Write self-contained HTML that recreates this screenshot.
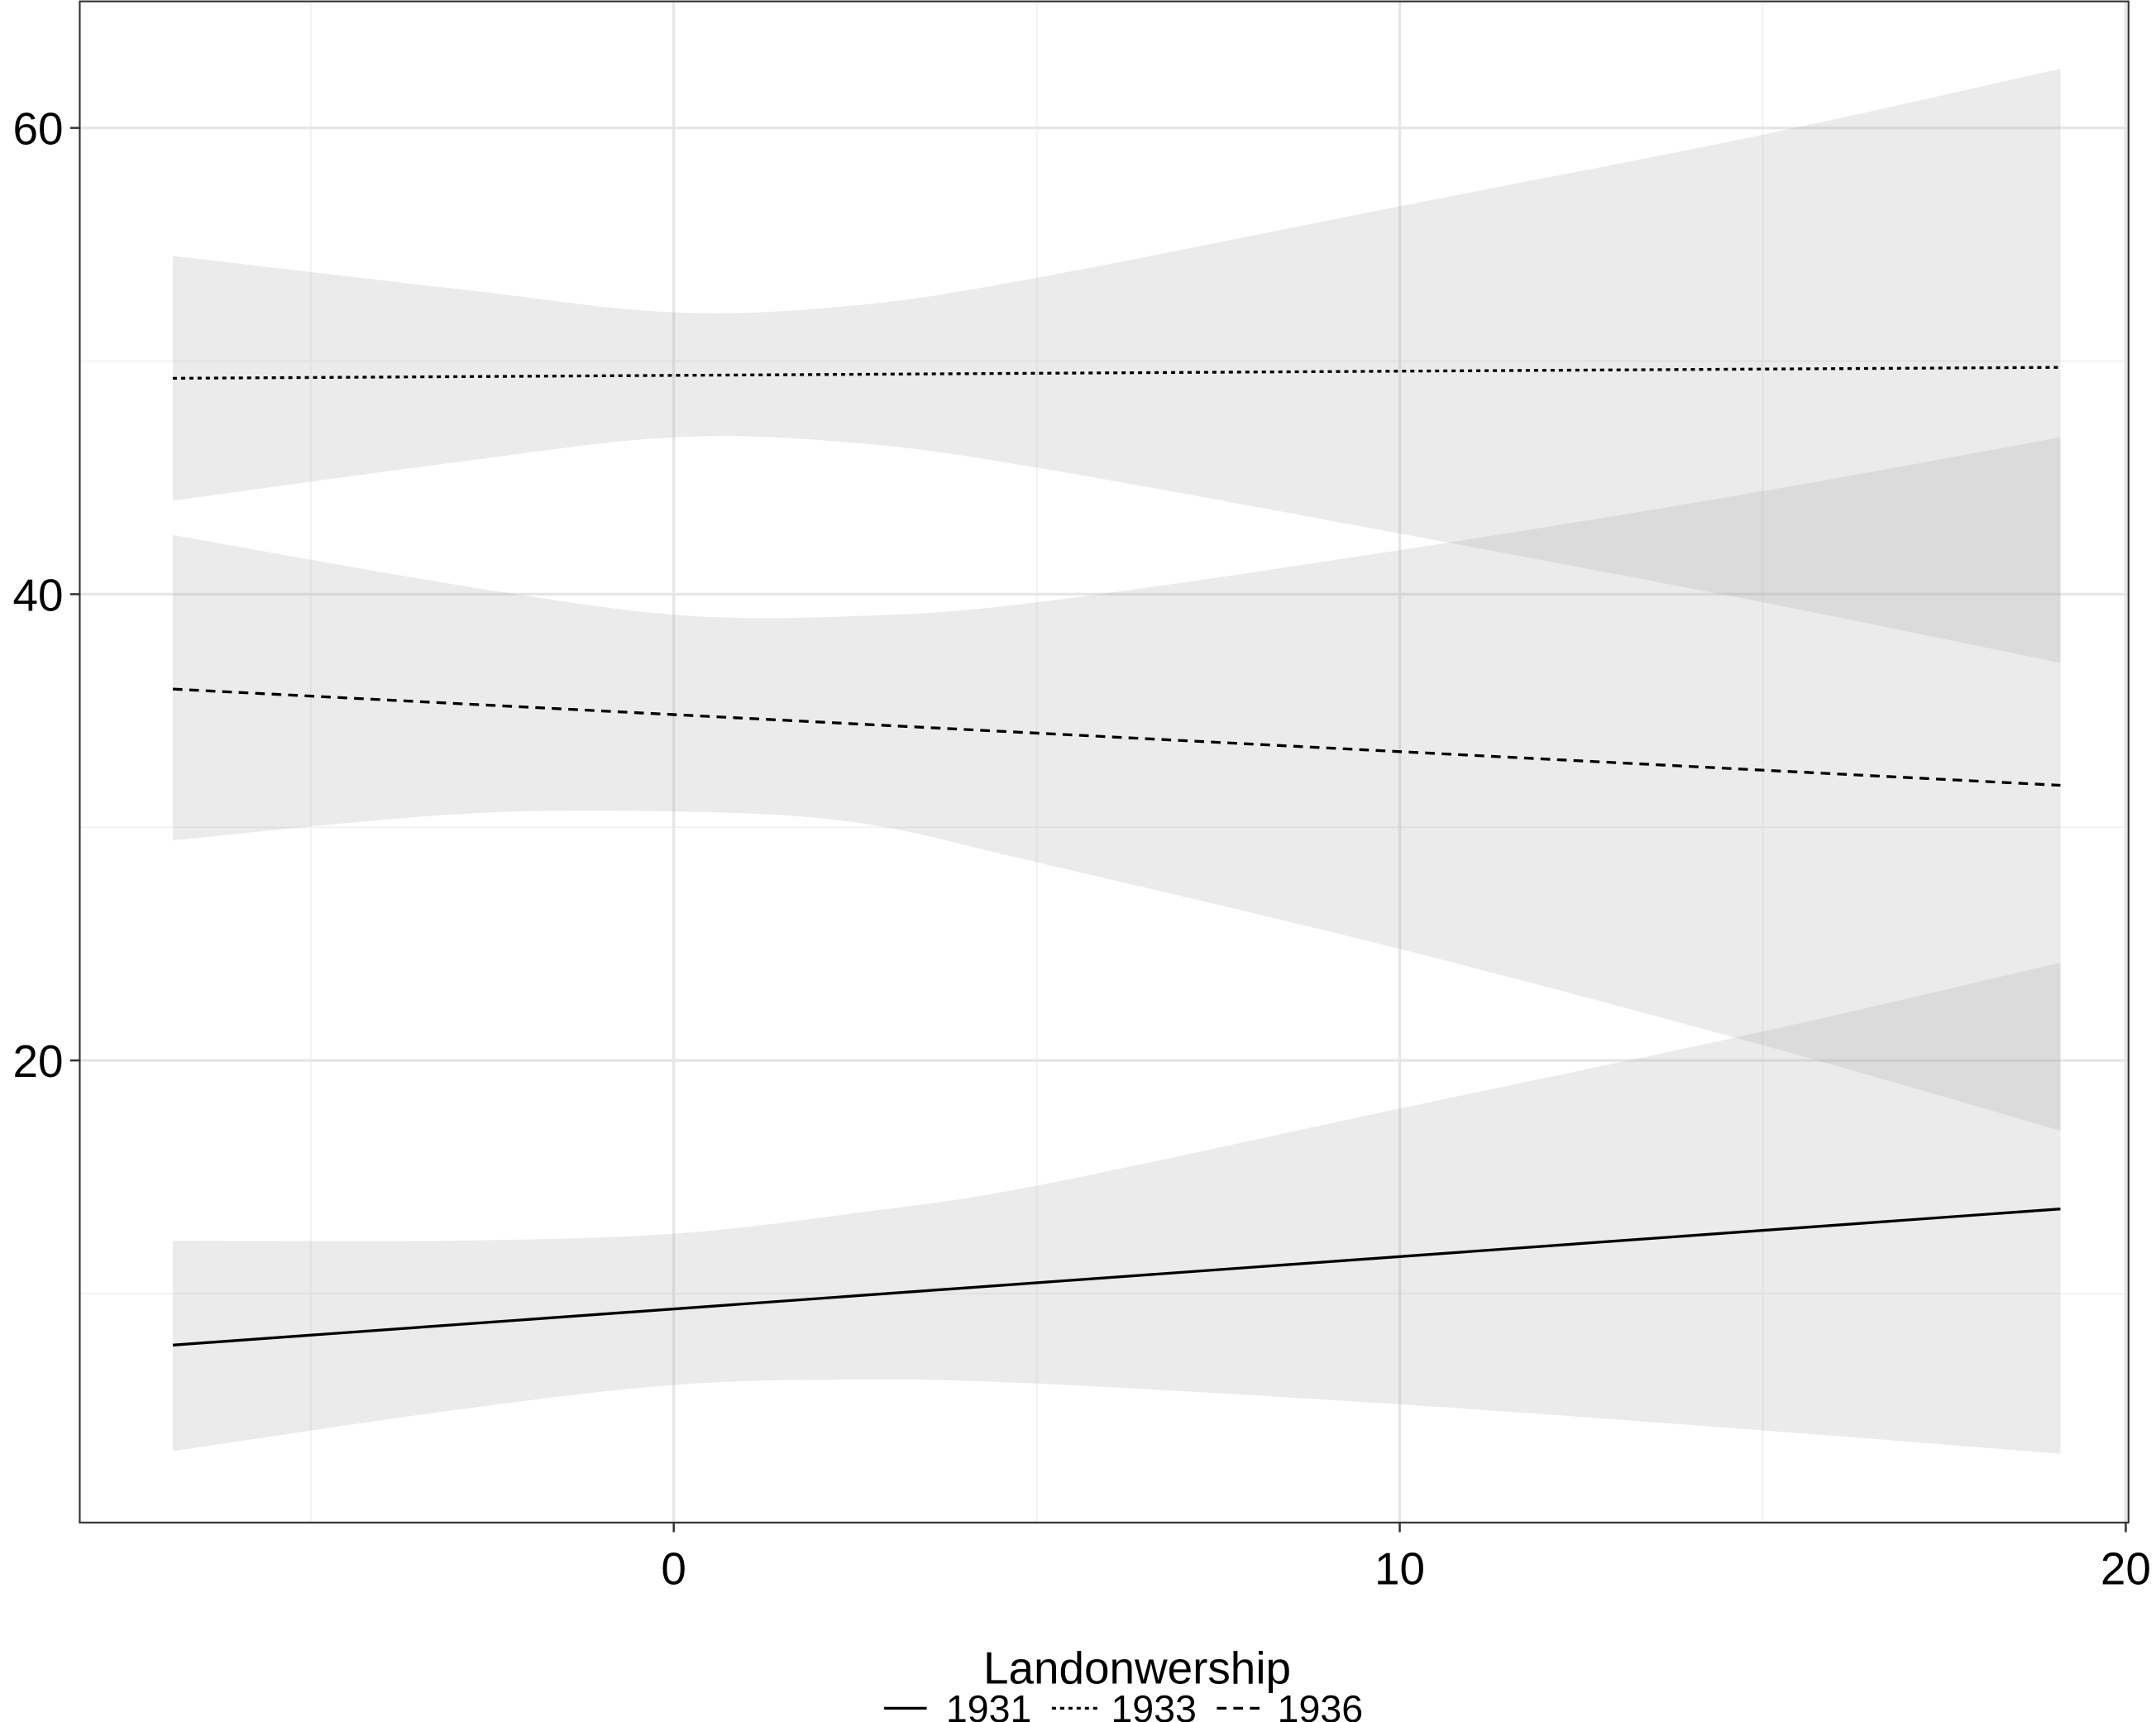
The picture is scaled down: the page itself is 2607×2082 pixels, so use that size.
<!DOCTYPE html>
<html><head><meta charset="utf-8"><style>
html,body{margin:0;padding:0;background:#fff;}
svg{display:block;font-family:"Liberation Sans",Arial,sans-serif;}
</style></head><body>
<svg id="chart" width="2607" height="2082" viewBox="0 0 1568 1252" preserveAspectRatio="none" xmlns="http://www.w3.org/2000/svg">
<g id="grid"></g>
<g id="bands"></g>
<g id="lines"></g>
<rect x="58" y="1" width="1490" height="1106" fill="none" stroke="#333" stroke-width="1.3"/>
<g id="axes"></g>
<text x="827" y="1224" font-size="33" text-anchor="middle">Landonwership</text>
<g>
  <g>
    <line x1="643" y1="1242" x2="674" y2="1242" stroke="#000" stroke-width="2"/>
    <text x="688" y="1252" font-size="28">1931</text>
  </g>
  <g>
    <line x1="765" y1="1242" x2="798" y2="1242" stroke="#000" stroke-width="2" stroke-dasharray="3,3"/>
    <text x="808" y="1252" font-size="28">1933</text>
  </g>
  <g>
    <line x1="885" y1="1242" x2="918" y2="1242" stroke="#000" stroke-width="2" stroke-dasharray="7,5"/>
    <text x="929" y="1252" font-size="28">1936</text>
  </g>
</g>
</svg>
<script>
const xGrid = [-6.9, -3, 0, 2.5, 5, 10, 15, 19.1];
const upper1931 = [12.27, 12.27, 12.57, 13.45, 14.63, 17.94, 21.24, 24.19];
const lower1931 = [3.24, 5.01, 6.08, 6.31, 6.14, 5.25, 4.13, 3.13];
const upper1933 = [54.51, 53.10, 52.09, 52.39, 53.57, 56.64, 59.71, 62.54];
const lower1933 = [44.01, 45.66, 46.73, 46.49, 45.43, 42.60, 39.65, 37.05];
const upper1936 = [42.54, 40.41, 39.12, 39.06, 39.65, 41.89, 44.42, 46.73];
const lower1936 = [29.44, 30.56, 30.68, 30.21, 28.50, 24.78, 20.65, 16.99];
const lineX = [-6.9, 19.1];
const line1931 = [7.79, 13.63];
const line1933 = [49.26, 49.73];
const line1936 = [35.93, 31.80];
const xTicks = [0, 10, 20];
const xMinor = [-5, 5, 15];
const yTicks = [20, 40, 60];
const yMinor = [10, 30, 50];

const NS = "http://www.w3.org/2000/svg";
function sx(v){ return 490 + (v - 0) * 52.8; }
function sy(v){ return 771 - (v - 20) * 16.95; }
function mk(tag, attrs, parent){
  const e = document.createElementNS(NS, tag);
  for (const k in attrs) e.setAttribute(k, attrs[k]);
  parent.appendChild(e); return e;
}
function smooth(pts){
  let d = "M" + pts[0][0] + "," + pts[0][1];
  for (let i = 0; i < pts.length - 1; i++){
    const p0 = pts[Math.max(0, i-1)], p1 = pts[i], p2 = pts[i+1], p3 = pts[Math.min(pts.length-1, i+2)];
    const c1x = p1[0] + (p2[0]-p0[0])/6, c1y = p1[1] + (p2[1]-p0[1])/6;
    const c2x = p2[0] - (p3[0]-p1[0])/6, c2y = p2[1] - (p3[1]-p1[1])/6;
    d += " C" + c1x + "," + c1y + " " + c2x + "," + c2y + " " + p2[0] + "," + p2[1];
  }
  return d;
}
const grid = document.getElementById('grid');
yMinor.forEach(v => {
  const l = mk('line', {x1:58, x2:1548, y1:sy(v), y2:sy(v), stroke:'#f0f0f0', 'stroke-width':1}, grid);
  
  
});
xMinor.forEach(v => {
  const l = mk('line', {x1:sx(v), x2:sx(v), y1:1, y2:1107, stroke:'#f0f0f0', 'stroke-width':1}, grid);
  
  
});
yTicks.forEach(v => {
  const l = mk('line', {x1:58, x2:1548, y1:sy(v), y2:sy(v), stroke:'#e6e6e6', 'stroke-width':2}, grid);
  
  
});
xTicks.forEach(v => {
  const l = mk('line', {x1:sx(v), x2:sx(v), y1:1, y2:1107, stroke:'#e6e6e6', 'stroke-width':2}, grid);
  
  
});
const bands = document.getElementById('bands');
[[upper1931, lower1931, '1931'], [upper1933, lower1933, '1933'], [upper1936, lower1936, '1936']].forEach(([u, lo, name]) => {
  const up = xGrid.map((x, i) => [sx(x), sy(u[i])]);
  const dn = xGrid.map((x, i) => [sx(x), sy(lo[i])]).reverse();
  let d = smooth(up) + " L" + dn[0][0] + "," + dn[0][1] + smooth(dn).replace(/^M[^C]*/, " ") + " Z";
  const p = mk('path', {d: d, fill:'#999', 'fill-opacity':0.2, stroke:'none'}, bands);
  
  
});
const lines = document.getElementById('lines');
[[line1931, '1931', 'none'], [line1933, '1933', '3,3'], [line1936, '1936', '7,5']].forEach(([ys, name, dash]) => {
  const l = mk('line', {x1:sx(lineX[0]), y1:sy(ys[0]), x2:sx(lineX[1]), y2:sy(ys[1]), stroke:'#000', 'stroke-width':2, 'stroke-dasharray':dash}, lines);
  
  
});
const axes = document.getElementById('axes');
yTicks.forEach(v => {
  const t = mk('line', {x1:51, x2:58, y1:sy(v), y2:sy(v), stroke:'#333', 'stroke-width':1.5}, axes);
  
  
  const tx = mk('text', {x:46, y:sy(v)+12, 'font-size':33, 'text-anchor':'end', fill:'#000'}, axes);
  tx.textContent = v;
  
  
});
xTicks.forEach(v => {
  const t = mk('line', {x1:sx(v), x2:sx(v), y1:1107, y2:1114, stroke:'#333', 'stroke-width':1.5}, axes);
  
  
  const tx = mk('text', {x:sx(v), y:1152, 'font-size':33, 'text-anchor':'middle', fill:'#000'}, axes);
  tx.textContent = v;
  
  
});
</script>
</body></html>
